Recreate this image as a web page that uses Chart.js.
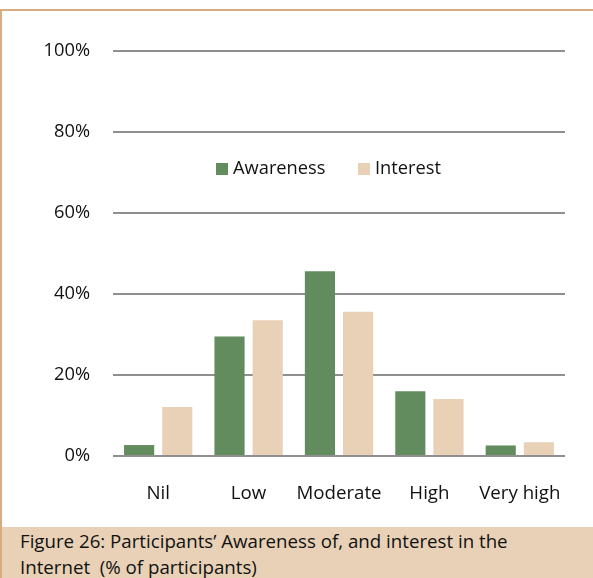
<!DOCTYPE html>
<html>
<head>
<meta charset="utf-8">
<script src="https://cdn.jsdelivr.net/npm/chart.js@4"></script>
<style>
  body { margin: 0; background: #fff; font-family: "Open Sans", sans-serif; }
  #frame { position: absolute; left: 0; top: 9px; width: 593px; height: 569px;
           border-top: 2px solid #D6AC80; border-left: 2px solid #D6AC80; box-sizing: border-box; }
  #wrap { position: absolute; left: 0; top: 0; width: 593px; height: 527px; }
  #caption { position: absolute; left: 2px; top: 527px; width: 591px; height: 51px;
             background: #E8D1B6; color: #111; font-size: 18.7px; line-height: 26px;
             padding: 1px 0 0 18px; box-sizing: border-box; white-space: nowrap; }
</style>
</head>
<body>
<div id="frame"></div>
<div id="wrap"><canvas id="chart" width="593" height="527"></canvas></div>
<div id="caption">Figure 26: Participants’ Awareness of, and interest in the<br>Internet&nbsp; (% of participants)</div>
<script>
document.addEventListener("DOMContentLoaded", function() {
    var categories = ['Nil', 'Low', 'Moderate', 'High', 'Very high'];
    var awareness = [2.7, 29.5, 45.6, 16.0, 2.6];
    var interest = [12.1, 33.5, 35.6, 14.1, 3.4];
    var yTicks = [0, 20, 40, 60, 80, 100];

    var green = '#628B5E';
    var tan = '#E8D1B6';

    // legend sits inside the plot, so draw it by hand
    var insideLegend = {
        id: 'insideLegend',
        afterDraw: function(chart) {
            var c = chart.ctx;
            var spots = [216, 358];
            c.save();
            c.font = '18.3px "Open Sans"';
            c.textBaseline = 'middle';
            chart.data.datasets.forEach(function(ds, i) {
                c.fillStyle = ds.backgroundColor;
                c.fillRect(spots[i], 163, 12, 12);
                c.fillStyle = '#111';
                c.fillText(ds.label, spots[i] + 17, 169);
            });
            c.restore();
        }
    };

    var ctx = document.getElementById('chart').getContext('2d');
    new Chart(ctx, {
        type: 'bar',
        data: {
            labels: categories,
            datasets: [{
                label: 'Awareness',
                data: awareness,
                backgroundColor: green
            }, {
                label: 'Interest',
                data: interest,
                backgroundColor: tan
            }]
        },
        options: {
            responsive: false,
            animation: false,
            layout: { padding: { left: 0, right: 28, top: 51, bottom: 0 } },
            datasets: {
                bar: { categoryPercentage: 0.844, barPercentage: 0.79 }
            },
            plugins: {
                legend: { display: false },
                tooltip: { enabled: false }
            },
            scales: {
                x: {
                    grid: { display: false },
                    border: { display: false },
                    ticks: {
                        color: '#111',
                        font: { family: 'Open Sans', size: 18.7 },
                        padding: 18,
                        maxRotation: 0
                    },
                    afterFit: function(s) { s.height = 71; }
                },
                y: {
                    min: 0,
                    max: 100,
                    afterBuildTicks: function(s) {
                        s.ticks = yTicks.map(function(v) { return { value: v }; });
                    },
                    grid: { color: '#8f8f8f', lineWidth: 2, drawTicks: false },
                    border: { display: false },
                    ticks: {
                        color: '#111',
                        font: { family: 'Open Sans', size: 18.3 },
                        padding: 23,
                        callback: function(v) { return v + '%'; }
                    },
                    afterFit: function(s) { s.width = 113; }
                }
            }
        },
        plugins: [insideLegend]
    });
});
</script>
</body>
</html>
